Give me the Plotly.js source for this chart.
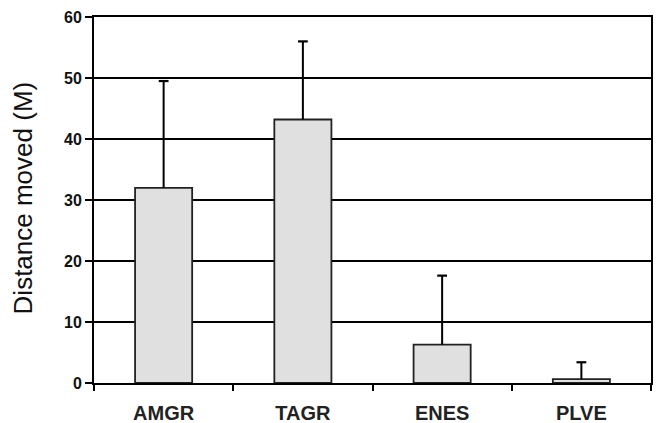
<!DOCTYPE html>
<html>
<head>
<meta charset="utf-8">
<script src="https://cdn.plot.ly/plotly-3.0.1.min.js"></script>
<style>html,body{margin:0;padding:0;background:#fff;}#chart{width:657px;height:423px;}</style>
</head>
<body>
<div id="chart"></div>
<script>
var categories = ["AMGR", "TAGR", "ENES", "PLVE"];
var meanDistance = [32.0, 43.2, 6.3, 0.65];
var errorUpper = [17.5, 12.8, 11.3, 2.75];
var yTickValues = [0, 10, 20, 30, 40, 50, 60];
var yTitle = "Distance moved (M)";

var errorTops = meanDistance.map(function (m, i) { return m + errorUpper[i]; });

var barTrace = {
  type: "bar",
  x: categories,
  y: meanDistance,
  width: 0.41,
  marker: {color: "#e0e0e0", line: {color: "#222", width: 1.8}},
  error_y: {type: "data", symmetric: false, array: errorUpper, arrayminus: [0,0,0,0],
            color: "#000", thickness: 2, width: 0},
  hoverinfo: "none"
};

var capTrace = {
  type: "scatter",
  mode: "markers",
  x: categories,
  y: errorTops,
  marker: {symbol: "line-ew", size: 7, line: {color: "#000", width: 2.2}},
  hoverinfo: "none",
  cliponaxis: false
};

var layout = {
  width: 657, height: 423,
  margin: {l: 94, r: 6, t: 17, b: 40, pad: 0},
  paper_bgcolor: "#fff", plot_bgcolor: "#fff",
  showlegend: false,
  font: {family: "Liberation Sans, Arial, sans-serif", color: "#000"},
  xaxis: {
    type: "category",
    tickson: "boundaries",
    ticks: "outside", ticklen: 6, tickwidth: 2, tickcolor: "#000",
    showline: true, linecolor: "#000", linewidth: 2, mirror: true,
    showgrid: false, zeroline: false,
    ticklabelstandoff: 11,
    tickfont: {size: 20, weight: "bold", color: "#222"},
    automargin: false
  },
  yaxis: {
    range: [0, 60],
    tickvals: yTickValues,
    ticktext: yTickValues.map(String),
    ticks: "outside", ticklen: 7, tickwidth: 2, tickcolor: "#000",
    showline: true, linecolor: "#000", linewidth: 2, mirror: true,
    showgrid: true, gridcolor: "#000", gridwidth: 2,
    zeroline: false,
    tickfont: {size: 16, weight: "bold", color: "#111"},
    automargin: false
  },
  annotations: [{
    text: yTitle, xref: "paper", yref: "paper",
    x: -0.1275, y: 0.507, xanchor: "center", yanchor: "middle",
    textangle: -90, showarrow: false,
    font: {size: 26, color: "#111"}
  }]
};

Plotly.newPlot("chart", [barTrace, capTrace], layout, {staticPlot: true, displayModeBar: false});
</script>
</body>
</html>
